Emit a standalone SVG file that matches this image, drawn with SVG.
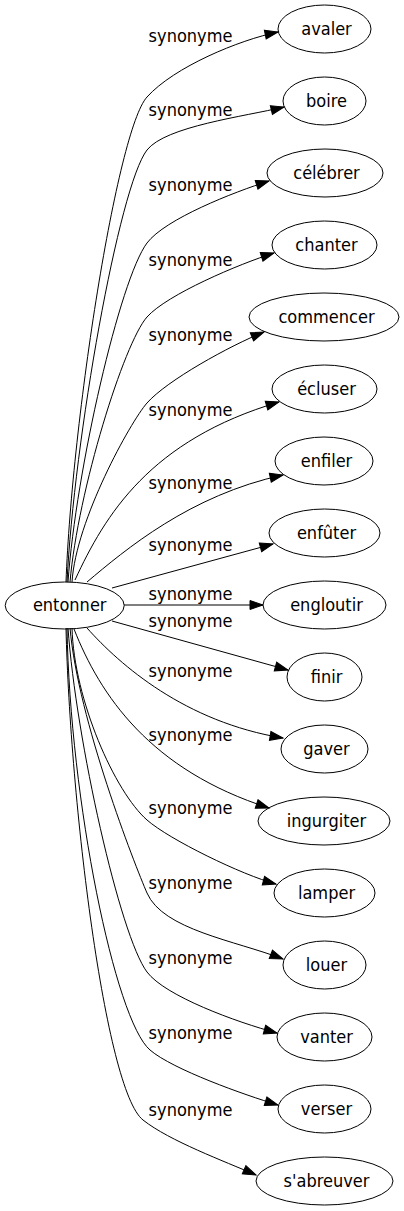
<svg xmlns="http://www.w3.org/2000/svg" width="404" height="1211" viewBox="0 0 404 1211">
<style>
.n ellipse{fill:none;stroke:#000;stroke-width:1}
text{font-family:"DejaVu Sans Condensed","DejaVu Sans",sans-serif;font-stretch:condensed;font-size:18px;fill:#000;text-anchor:middle}
.e path{fill:none;stroke:#000;stroke-width:1;marker-end:url(#arr)}
</style>
<defs>
<marker id="arr" markerUnits="userSpaceOnUse" markerWidth="15" markerHeight="11" refX="13" refY="4.5" orient="auto" overflow="visible"><path d="M0,0 L13,4.5 L0,9 z" fill="#000" stroke="#000" stroke-width="1"/></marker>
</defs>
<rect width="404" height="1211" fill="#fff"/>
<g id="connectors" class="e">
<g id="e-avaler"><path d="M66,582 C72,420 117,130 147,97 C174,67 239,40 278,32"/><text x="190.5" y="41.5">synonyme</text></g>
<g id="e-boire"><path d="M67,582 C74,440 119,186 147,150 C165.6,126.3 244,116.6 284,107"/><text x="190.5" y="116">synonyme</text></g>
<g id="e-celebrer"><path d="M68,582 C76,470 120,279 147,243 C165,219 234,192 269,181"/><text x="190.5" y="191">synonyme</text></g>
<g id="e-chanter"><path d="M70,582 C78,490 124,343 147,317 C167,294.5 239,264 274,253"/><text x="190.5" y="266">synonyme</text></g>
<g id="e-commencer"><path d="M72,582 C76,520 130.5,421.75 147,403 C166.8,380.5 229.8,345.7 264,332"/><text x="190.5" y="341">synonyme</text></g>
<g id="e-ecluser"><path d="M75,580 C105,515 150,440 279,402"/><text x="190.5" y="416">synonyme</text></g>
<g id="e-enfiler"><path d="M87,582 C125,550 190,495 283,475"/><text x="190.5" y="489">synonyme</text></g>
<g id="e-enfuter"><path d="M112,588 L273,544"/><text x="190.5" y="551">synonyme</text></g>
<g id="e-engloutir"><path d="M124,605 L263,605"/><text x="190.5" y="600">synonyme</text></g>
<g id="e-finir"><path d="M112,621 L288,670"/><text x="190.5" y="627">synonyme</text></g>
<g id="e-gaver"><path d="M87,628 C120,665 185,722 283,738"/><text x="190.5" y="677">synonyme</text></g>
<g id="e-ingurgiter"><path d="M74,629 C100,695 150,770 269,808"/><text x="190.5" y="741">synonyme</text></g>
<g id="e-lamper"><path d="M72,628 C74,700 115,792 147,820 C169.4,839.6 242,875 276,884"/><text x="190.5" y="814">synonyme</text></g>
<g id="e-louer"><path d="M70,628 C78,720 135,865.4 147,893 C163,929.8 235,940.5 283,959"/><text x="190.5" y="889">synonyme</text></g>
<g id="e-vanter"><path d="M68,628 C76,740 120,936 147,972 C165,996 236,1022 277,1033"/><text x="190.5" y="964">synonyme</text></g>
<g id="e-verser"><path d="M67,628 C70,800 115,1020 150,1050 C172.75,1069.5 244.4,1094.9 278,1105"/><text x="190.5" y="1039">synonyme</text></g>
<g id="e-sabreuver"><path d="M66,628 C70,800 105,1090 143,1120 C169.6,1141 224,1161 256,1175"/><text x="190.5" y="1116">synonyme</text></g>
</g>
<g id="n-entonner" class="n"><ellipse cx="64.7" cy="605.5" rx="59.5" ry="23.5"/><text x="69.7" y="610.7">entonner</text></g>
<g id="n-avaler" class="n"><ellipse cx="324.5" cy="29" rx="46.5" ry="24"/><text x="326.5" y="35">avaler</text></g>
<g id="n-boire" class="n"><ellipse cx="324.5" cy="101" rx="41.5" ry="24"/><text x="326.5" y="107">boire</text></g>
<g id="n-celebrer" class="n"><ellipse cx="325" cy="173" rx="58" ry="24"/><text x="326.5" y="179">célébrer</text></g>
<g id="n-chanter" class="n"><ellipse cx="324.5" cy="245" rx="52.5" ry="24"/><text x="326.5" y="251">chanter</text></g>
<g id="n-commencer" class="n"><ellipse cx="324" cy="317" rx="75" ry="24"/><text x="326.5" y="323">commencer</text></g>
<g id="n-ecluser" class="n"><ellipse cx="324.5" cy="389" rx="52.5" ry="24"/><text x="326.5" y="395">écluser</text></g>
<g id="n-enfiler" class="n"><ellipse cx="324" cy="461" rx="49" ry="24"/><text x="326.5" y="467">enfiler</text></g>
<g id="n-enfuter" class="n"><ellipse cx="324.5" cy="533" rx="55.5" ry="24"/><text x="326.5" y="539">enfûter</text></g>
<g id="n-engloutir" class="n"><ellipse cx="324.5" cy="605" rx="61.5" ry="24"/><text x="326.5" y="611">engloutir</text></g>
<g id="n-finir" class="n"><ellipse cx="324.5" cy="677" rx="37.5" ry="24"/><text x="326.5" y="683">finir</text></g>
<g id="n-gaver" class="n"><ellipse cx="324.5" cy="749" rx="43.5" ry="24"/><text x="326.5" y="755">gaver</text></g>
<g id="n-ingurgiter" class="n"><ellipse cx="324" cy="821" rx="66" ry="24"/><text x="326.5" y="827">ingurgiter</text></g>
<g id="n-lamper" class="n"><ellipse cx="324.5" cy="893" rx="50.5" ry="24"/><text x="326.5" y="899">lamper</text></g>
<g id="n-louer" class="n"><ellipse cx="324.5" cy="965" rx="41.5" ry="24"/><text x="326.5" y="971">louer</text></g>
<g id="n-vanter" class="n"><ellipse cx="324.5" cy="1037" rx="47.5" ry="24"/><text x="326.5" y="1043">vanter</text></g>
<g id="n-verser" class="n"><ellipse cx="324.5" cy="1109" rx="46.5" ry="24"/><text x="326.5" y="1115">verser</text></g>
<g id="n-sabreuver" class="n"><ellipse cx="324.5" cy="1181" rx="68.5" ry="24"/><text x="326.5" y="1187">s'abreuver</text></g>
</svg>
